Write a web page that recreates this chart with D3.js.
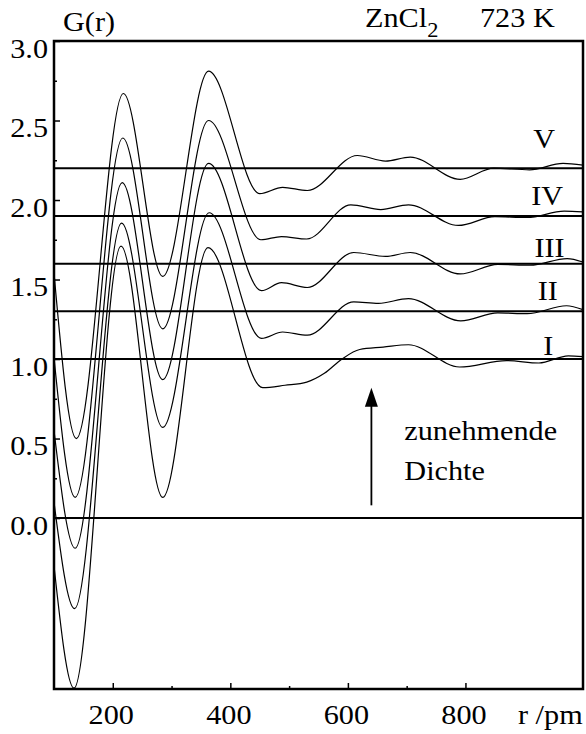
<!DOCTYPE html>
<html>
<head>
<meta charset="utf-8">
<script src="https://cdn.jsdelivr.net/npm/d3@7"></script>
<style>
  body { margin: 0; background: #fff; }
  text { font-family: "Liberation Serif", "Times New Roman", serif; fill: #000; }
</style>
</head>
<body>
<svg id="chart" width="586" height="734"></svg>
<script>
// Pair distribution functions G(r) of molten ZnCl2 at 723 K, five densities (I..V),
// each curve shifted upward by 0.3 and drawn with its reference line G = 1 + shift.
const curveNames = ["I", "II", "III", "IV", "V"];
const referenceLevels = [1.0, 1.3, 1.6, 1.9, 2.2];

const rI   = [100, 134, 214, 285, 362, 455, 493, 530, 560, 590, 620, 660, 703, 790, 870, 925, 975, 1000];
const gI   = [-0.30, -1.07, 1.71, 0.13, 1.70, 0.82, 0.835, 0.855, 0.91, 1.0, 1.06, 1.075, 1.09, 0.95, 0.99, 0.975, 1.02, 1.015];

const rII  = [100, 135, 215, 285, 364, 453, 489, 531, 610, 652, 703, 792, 855, 905, 972, 1000];
const gII  = [0.10, -0.57, 1.855, 0.57, 1.92, 1.13, 1.17, 1.15, 1.36, 1.35, 1.38, 1.24, 1.29, 1.285, 1.335, 1.31];

const rIII = [100, 136, 216, 285, 363, 453, 487, 531, 610, 664, 706, 791, 855, 910, 973, 1000];
const gIII = [0.55, -0.19, 2.11, 0.87, 2.23, 1.43, 1.48, 1.45, 1.67, 1.645, 1.67, 1.535, 1.595, 1.59, 1.632, 1.61];

const rIV  = [100, 136, 217, 285, 363, 452, 487, 530, 605, 656, 703, 788, 850, 905, 968, 1000];
const gIV  = [1.01, 0.13, 2.39, 1.19, 2.50, 1.75, 1.77, 1.755, 1.97, 1.94, 1.97, 1.84, 1.895, 1.89, 1.93, 1.925];

const rV   = [100, 138, 218, 285, 363, 450, 489, 531, 616, 664, 706, 791, 848, 909, 966, 1000];
const gV   = [1.54, 0.50, 2.67, 1.52, 2.81, 2.04, 2.08, 2.06, 2.28, 2.245, 2.27, 2.13, 2.20, 2.19, 2.23, 2.22];

const curveR = [rI, rII, rIII, rIV, rV];
const curveG = [gI, gII, gIII, gIV, gV];

// Where each Roman numeral label sits, in data units (r, G)
const labelR = [941, 940, 943, 939, 934];
const labelG = [1.025, 1.371, 1.642, 1.969, 2.327];

const yMajorTicks = [0.0, 0.5, 1.0, 1.5, 2.0, 2.5, 3.0];
const yMinorTicks = [0.25, 0.75, 1.25, 1.75, 2.25, 2.75];
const xMajorTicks = [200, 400, 600, 800];
const xMinorTicks = [300, 500, 700];

// Arrow "increasing density"
const arrowR = 640;
const arrowG = [0.08, 0.82];

const svg = d3.select("#chart");
const plotLeft = 54, plotRight = 583, plotTop = 41, plotBottom = 689;
const x = d3.scaleLinear().domain([100, 1000]).range([plotLeft, plotRight]);
const y = d3.scaleLinear().domain([-1.075, 3.0]).range([plotBottom, plotTop]);

const SX = 1.12;   // serif face is set slightly wide
function label(g, px, py, str, anchor, size) {
  return g.append("text")
    .attr("transform", `translate(${px},${py}) scale(${SX},1)`)
    .attr("text-anchor", anchor || "start")
    .attr("font-size", size || 27)
    .text(str);
}

svg.append("defs").append("clipPath").attr("id", "plot")
  .append("rect").attr("x", plotLeft).attr("y", plotTop)
  .attr("width", plotRight - plotLeft).attr("height", plotBottom - plotTop);

// Reference lines
const refs = svg.append("g");
[0].concat(referenceLevels).forEach(v => {
  refs.append("line")
    .attr("x1", plotLeft).attr("x2", plotRight)
    .attr("y1", y(v)).attr("y2", y(v))
    .attr("stroke", "#000").attr("stroke-width", 2);
});

// Curves
const line = d3.line()
  .x(d => x(d[0])).y(d => y(d[1]))
  .curve(d3.curveMonotoneX);
const curves = svg.append("g").attr("clip-path", "url(#plot)");
curveNames.forEach((name, i) => {
  const pts = curveR[i].map((r, j) => [r, curveG[i][j]]);
  curves.append("path")
    .datum(pts)
    .attr("d", line)
    .attr("fill", "none")
    .attr("stroke", "#000")
    .attr("stroke-width", 1.2);
});

// Axes (ticks point inward)
const yAxis = svg.append("g").attr("transform", `translate(${plotLeft},0)`)
  .call(d3.axisLeft(y).tickValues(yMajorTicks).tickSize(-6).tickFormat(d3.format(".1f")));
const yAxisMinor = svg.append("g").attr("transform", `translate(${plotLeft},0)`)
  .call(d3.axisLeft(y).tickValues(yMinorTicks).tickSize(-3).tickFormat(""));
const xAxis = svg.append("g").attr("transform", `translate(0,${plotBottom})`)
  .call(d3.axisBottom(x).tickValues(xMajorTicks).tickSize(-6).tickFormat(d3.format("d")));
const xAxisMinor = svg.append("g").attr("transform", `translate(0,${plotBottom})`)
  .call(d3.axisBottom(x).tickValues(xMinorTicks).tickSize(-3).tickFormat(""));

[yAxis, yAxisMinor, xAxis, xAxisMinor].forEach(a => {
  a.select(".domain").remove();
  a.selectAll(".tick line").attr("stroke", "#000").attr("stroke-width", 1.5);
});
yAxis.selectAll(".tick text")
  .attr("x", null).attr("dy", null)
  .attr("transform", `translate(-6,16) scale(${SX},1)`)
  .attr("text-anchor", "end")
  .attr("font-size", 27)
  .attr("font-family", '"Liberation Serif", "Times New Roman", serif')
  .attr("fill", "#000");
xAxis.selectAll(".tick text")
  .attr("y", null).attr("dy", null)
  .attr("transform", `translate(-2,35) scale(${SX},1)`)
  .attr("text-anchor", "middle")
  .attr("font-size", 27)
  .attr("font-family", '"Liberation Serif", "Times New Roman", serif')
  .attr("fill", "#000");

// Frame
svg.append("rect")
  .attr("x", plotLeft).attr("y", plotTop)
  .attr("width", plotRight - plotLeft).attr("height", plotBottom - plotTop)
  .attr("fill", "none").attr("stroke", "#000").attr("stroke-width", 2.5);

// Curve labels
const labels = svg.append("g");
curveNames.forEach((name, i) => {
  label(labels, x(labelR[i]), y(labelG[i]), name, "middle");
});

// Arrow
const arrow = svg.append("g");
arrow.append("line")
  .attr("x1", x(arrowR)).attr("x2", x(arrowR))
  .attr("y1", y(arrowG[0])).attr("y2", y(arrowG[1]) + 12)
  .attr("stroke", "#000").attr("stroke-width", 1.8);
arrow.append("path")
  .attr("d", `M${x(arrowR)},${y(arrowG[1])} L${x(arrowR) - 6.5},${y(arrowG[1]) + 19} L${x(arrowR) + 6.5},${y(arrowG[1]) + 19} Z`)
  .attr("fill", "#000");
label(svg, x(696), y(0.49), "zunehmende", "start");
label(svg, x(696), y(0.24), "Dichte", "start");

// Titles
label(svg, 63, 31, "G(r)", "start");
const zn = label(svg, 365, 27, "ZnCl", "start");
zn.append("tspan").attr("dy", 10).attr("font-size", 20).text("2");
label(svg, 480, 27, "723 K", "start");
label(svg, 518, 724, "r /pm", "start");
</script>
</body>
</html>
